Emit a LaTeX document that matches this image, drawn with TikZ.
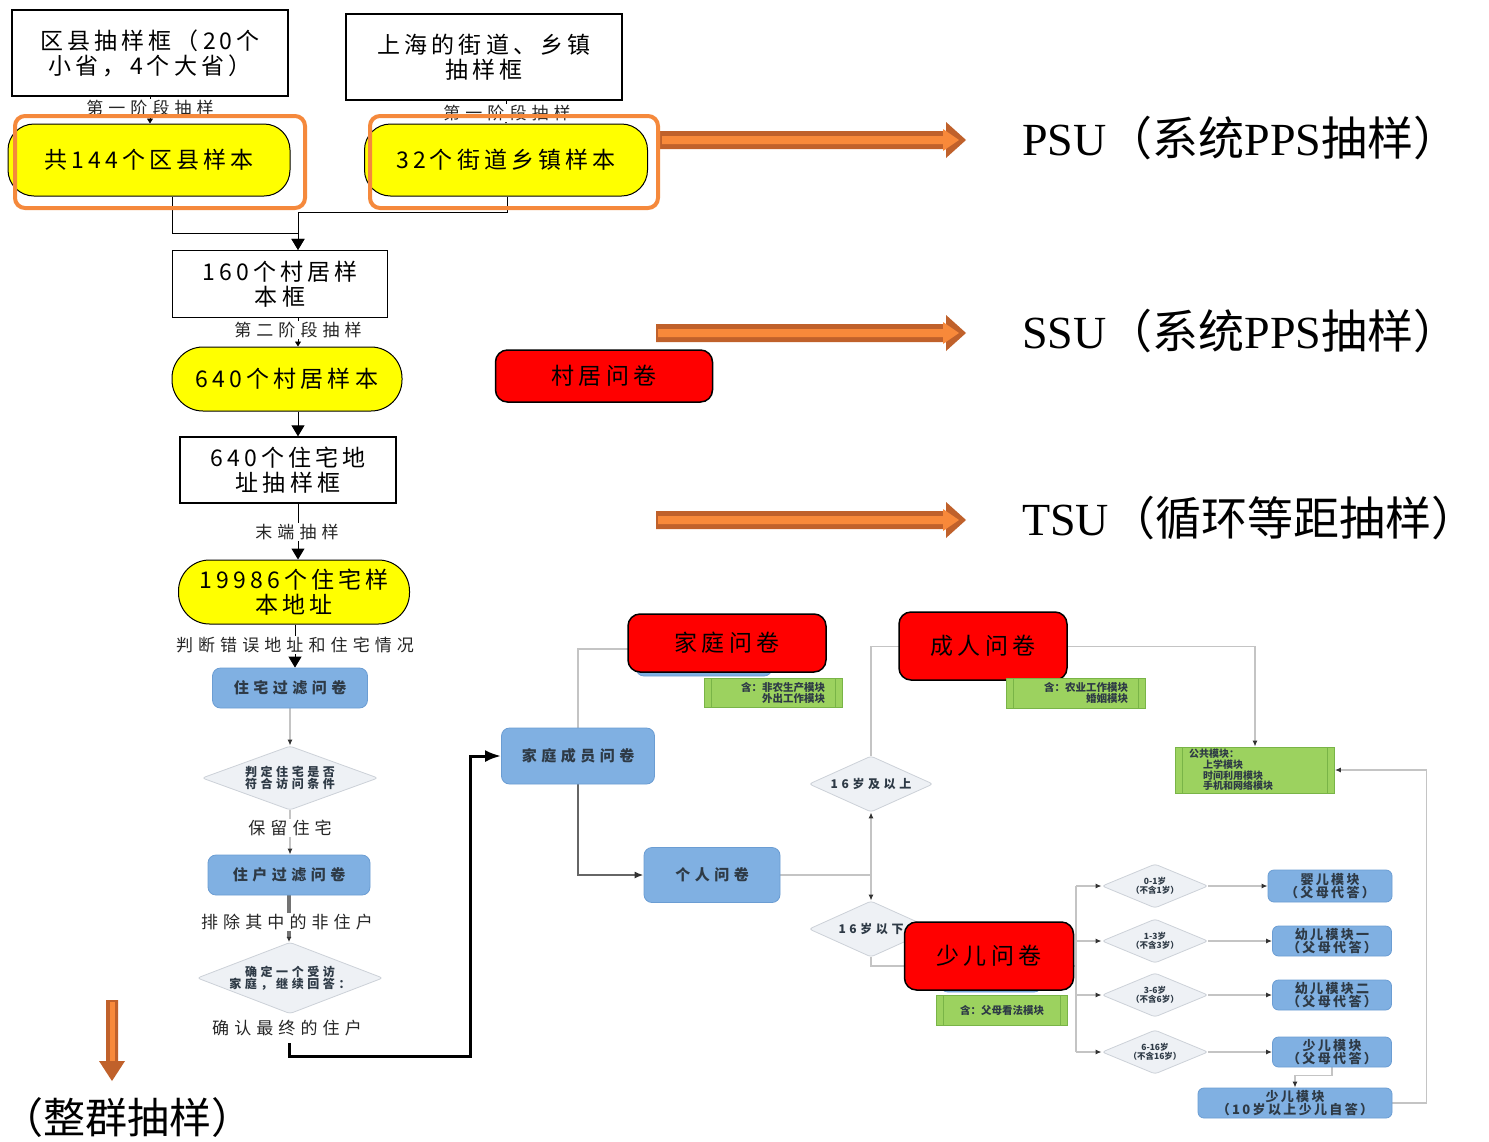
\documentclass[tikz,border=0pt]{standalone}
\usepackage{fontspec}
\setmainfont{Noto Sans CJK SC}
\newfontfamily\cjks{Noto Sans CJK SC}[LetterSpace=18]
\newfontfamily\cjkl{Noto Sans CJK SC}[LetterSpace=30]
\newfontfamily\ser{Liberation Serif}
\usetikzlibrary{shapes.geometric,arrows.meta}
\pgfdeclarelayer{background}
\pgfsetlayers{background,main}
\definecolor{yel}{HTML}{FFFF00}
\definecolor{ofr}{HTML}{F5893C}
\definecolor{adark}{HTML}{C0612B}
\definecolor{alight}{HTML}{F8893A}
\definecolor{redf}{HTML}{FF0000}
\definecolor{bluef}{HTML}{80B0E2}
\definecolor{blued}{HTML}{6B9DD3}
\definecolor{diaf}{HTML}{EEF1F5}
\definecolor{diad}{HTML}{CCD1D8}
\definecolor{grf}{HTML}{9CD25F}
\definecolor{grd}{HTML}{79B447}
\definecolor{lgray}{HTML}{C4C4C4}
\definecolor{btext}{HTML}{2E3A46}
\newcommand\OrArrowH[3]{%
  \fill[adark] (#1,#3-9) -- (#2-20,#3-9) -- (#2-20,#3-18) -- (#2,#3) -- (#2-20,#3+18) -- (#2-20,#3+9) -- (#1,#3+9) -- cycle;
  \fill[alight] (#1+2,#3-4) -- (#2-23,#3-4) -- (#2-23,#3-11) -- (#2-7,#3) -- (#2-23,#3+11) -- (#2-23,#3+4) -- (#1+2,#3+4) -- cycle;}
\newcommand\OrArrowV[3]{%
  \fill[adark] (#1-6,#2) -- (#1+6,#2) -- (#1+6,#3-20) -- (#1+13,#3-20) -- (#1,#3) -- (#1-13,#3-20) -- (#1-6,#3-20) -- cycle;
  \fill[alight] (#1-2.5,#2+2) rectangle (#1+2.5,#3-20);}
\tikzset{
 wbox/.style={draw=black, line width=1.3pt, fill=white, align=center, inner sep=0pt, font=\cjks\fontsize{23}{25}\selectfont},
 ybox/.style={draw=black, line width=1pt, fill=yel, rounded corners=26pt, align=center, inner sep=0pt, font=\cjks\fontsize{23}{25}\selectfont},
 oframe/.style={draw=ofr, line width=4pt, rounded corners=10pt, inner sep=0pt},
 lab/.style={fill=white, inner sep=1pt, font=\cjkl\fontsize{17}{19}\selectfont, text=black!85},
 bbox/.style={draw=blued, line width=0.8pt, fill=bluef, rounded corners=8pt, align=center, inner sep=0pt, text=btext, font=\cjkl\bfseries\fontsize{15}{16}\selectfont},
 sbox/.style={bbox, rounded corners=6pt, font=\cjks\bfseries\fontsize{13}{13}\selectfont},
 dia/.style={diamond, draw=diad, line width=0.8pt, fill=diaf, inner sep=0pt, align=center, text=btext, rounded corners=3pt, font=\cjkl\bfseries\fontsize{12}{12.5}\selectfont},
 qdia/.style={dia, aspect=2.4, minimum width=106, minimum height=44, font=\bfseries\fontsize{8.5}{9.5}\selectfont},
 rbox/.style={draw=black, line width=1.5pt, fill=redf, rounded corners=12pt, inner sep=0pt, font=\cjks\fontsize{23}{25}\selectfont},
 gbox/.style={draw=grd, line width=0.8pt, fill=grf, inner sep=0pt, text=btext, font=\bfseries\fontsize{10.5}{11.5}\selectfont,
   path picture={\draw[grd,line width=0.8pt] ([xshift=7pt]path picture bounding box.north west) -- ([xshift=7pt]path picture bounding box.south west)
     ([xshift=-7pt]path picture bounding box.north east) -- ([xshift=-7pt]path picture bounding box.south east);}},
 big/.style={font=\fontsize{46}{48}\selectfont, inner sep=0pt},
 conn/.style={draw=black, line width=1pt, -{Triangle[length=11pt,width=13pt]}},
 connS/.style={draw=black, line width=0.8pt, -{Triangle[length=5pt,width=6pt]}},
 gconn/.style={draw=lgray, line width=1.5pt},
 garr/.style={gconn, -{Latex[length=6pt,width=5pt,color=black!80]}},
 darr/.style={draw=black!60, line width=2.5pt, -{Latex[length=9pt,width=7pt,color=black!80]}},
 karr/.style={draw=black!55, line width=3.5pt, -{Latex[length=5pt,width=5pt,color=black!80]}}
}
\begin{document}
\begin{tikzpicture}[x=1pt,y=-1pt]
\useasboundingbox (0,0) rectangle (1489,1141);
\begin{pgfonlayer}{background}
\fill[white] (0,0) rectangle (1489,1141);
\end{pgfonlayer}

% orange arrows and big labels
\OrArrowH{660}{966}{140}
\OrArrowH{656}{966}{333}
\OrArrowH{656}{966}{520}
\OrArrowV{112}{1000}{1081}
\node[big, anchor=west] (psu) at (1022,138) {{\ser PSU}（系统{\ser PPS}抽样）};
\node[big, anchor=west] (ssu) at (1022,331) {{\ser SSU}（系统{\ser PPS}抽样）};
\node[big, anchor=west] (tsu) at (1022,518) {{\ser TSU}（循环等距抽样）};
\node[anchor=west, inner sep=0pt, font=\fontsize{42}{44}\selectfont] (zq) at (1,1118) {（整群抽样）};

% left column
\node[wbox, minimum width=276, minimum height=86] (A) at (150,53) {区县抽样框（20个\\小省，4个大省）};
\node[wbox, minimum width=276, minimum height=86] (B) at (484,57) {上海的街道、乡镇\\抽样框};
\node[lab] (l1) at (150,108) {第一阶段抽样};
\node[lab] (l2) at (507,113) {第一阶段抽样};
\node[ybox, minimum width=282, minimum height=72] (C) at (149,160) {共144个区县样本};
\node[ybox, minimum width=283, minimum height=72] (D) at (506,160) {32个街道乡镇样本};
\node[oframe, minimum width=290, minimum height=92] (Cf) at (160,162) {};
\node[oframe, minimum width=288, minimum height=92] (Df) at (514,162) {};
\node[wbox, minimum width=215, minimum height=67] (E) at (280,284) {160个村居样\\本框};
\node[lab] (l3) at (298,330) {第二阶段抽样};
\node[ybox, rounded corners=31pt, minimum width=230, minimum height=64] (F) at (287,379) {640个村居样本};
\node[wbox, minimum width=216, minimum height=66] (G) at (288,470) {640个住宅地\\址抽样框};
\node[lab] (l4) at (297,532) {末端抽样};
\node[ybox, rounded corners=31pt, minimum width=231, minimum height=64] (H) at (294,592) {19986个住宅样\\本地址};
\node[lab] (l5) at (295,645) {判断错误地址和住宅情况};
\node[bbox, minimum width=155, minimum height=40] (I) at (290,688) {住宅过滤问卷};
\node[dia, aspect=2.75, minimum width=176, minimum height=64] (J) at (290,778) {判定住宅是否\\符合访问条件};
\node[lab] (l6) at (290,828) {保留住宅};
\node[bbox, minimum width=162, minimum height=40] (K) at (289,875) {住户过滤问卷};
\node[lab] (l7) at (287,922) {排除其中的非住户};
\node[dia, aspect=2.6, minimum width=180, minimum height=70] (L) at (290,978) {确定一个受访\\家庭，继续回答：};
\node[lab] (l8) at (287,1028) {确认最终的住户};
\coordinate (lst) at (289,1043);

\node[rbox, minimum width=217, minimum height=52] (VQ) at (604,376) {村居问卷};

% right part
\node[bbox, minimum width=153, minimum height=56] (M) at (578,756) {家庭成员问卷};
\node[bbox, minimum width=136, minimum height=54] (FQb) at (704,649) {};
\node[rbox, minimum width=198, minimum height=58] (FQ) at (727,643) {家庭问卷};
\node[gbox, text width=104, align=right, minimum width=138, minimum height=29] (g1) at (773,693) {含：非农生产模块\\外出工作模块};
\node[bbox, minimum width=136, minimum height=55] (N) at (712,875) {个人问卷};
\node[dia, aspect=2.2, minimum width=124, minimum height=56] (O) at (871,784) {16岁及以上};
\node[dia, aspect=2.2, minimum width=124, minimum height=56] (P) at (871,929) {16岁以下};
\node[rbox, minimum width=168, minimum height=68] (AQ) at (983,646) {成人问卷};
\node[gbox, text width=104, align=right, minimum width=139, minimum height=30] (g2) at (1076,693) {含：农业工作模块\\婚姻模块};
\node[gbox, text width=132, align=left, minimum width=159, minimum height=46, font=\bfseries\fontsize{10}{10.8}\selectfont] (g3) at (1255,770) {公共模块：\\\hspace*{14pt}上学模块\\\hspace*{14pt}时间利用模块\\\hspace*{14pt}手机和网络模块};
\node[bbox, minimum width=102, minimum height=52] (SQb) at (991,966) {};
\node[rbox, minimum width=169, minimum height=68] (SQ) at (989,956) {少儿问卷};
\node[gbox, minimum width=131, minimum height=30] (g4) at (1002,1010) {含：父母看法模块};

\node[qdia] (Q1) at (1155,886) {0-1岁\\（不含1岁）};
\node[qdia] (Q2) at (1155,941) {1-3岁\\（不含3岁）};
\node[qdia] (Q3) at (1155,995) {3-6岁\\（不含6岁）};
\node[qdia] (Q4) at (1155,1052) {6-16岁\\（不含16岁）};
\node[sbox, minimum width=124, minimum height=32] (R1) at (1330,886) {婴儿模块\\（父母代答）};
\node[sbox, minimum width=119, minimum height=30] (R2) at (1332,941) {幼儿模块一\\（父母代答）};
\node[sbox, minimum width=119, minimum height=30] (R3) at (1332,995) {幼儿模块二\\（父母代答）};
\node[sbox, minimum width=119, minimum height=30] (R4) at (1332,1052) {少儿模块\\（父母代答）};
\node[sbox, minimum width=194, minimum height=30] (R5) at (1295,1103) {少儿模块\\（10岁以上少儿自答）};

\coordinate (col) at (298,0);
\coordinate (col2) at (295,0);
\coordinate (eIn) at (E.north -| col);
\coordinate (nj) at (871,875);
\coordinate (bt) at (1076,886);
\coordinate (bb) at (1076,1052);

\begin{pgfonlayer}{background}
\draw[connS] (A.south) -- (A.south |- C.north);
\draw[connS] ([xshift=22pt]B.south) -- ([xshift=22pt]B.south |- D.north);
\draw[conn] ([xshift=23pt]C.south) -- ++(0,37) -| (eIn);
\draw[conn] ([xshift=1pt]D.south) -- ++(0,16) -| (eIn);
\draw[connS] (E.south -| col) -- (F.north -| col);
\draw[conn] (F.south -| col) -- (G.north -| col);
\draw[conn] (G.south -| col) -- (H.north -| col);
\draw[conn] (H.south -| col2) -- (I.north -| col2);
\draw[garr] (I.south) -- (J.north);
\draw[garr] (J.south) -- (J.south |- K.north);
\draw[karr] (K.south) -- (K.south |- L.north);
\draw[black, line width=3pt, -{Latex[length=16pt,width=12pt]}] (lst) -- ++(0,13) -- ++(181,0) |- (M.west);
\draw[gconn] (M.north) |- (FQb.west);
\draw[darr] (M.south) |- (N.west);
\draw[gconn] (N.east) -- (nj);
\draw[garr] (nj) -- (O.south);
\draw[garr] (nj) -- (P.north);
\draw[garr] (O.north) -- ++(0,-109) -| (g3.north);
\draw[garr] (P.south) |- (SQb.west);
\draw[gconn] (SQb.east) -- (SQb.east -| bt);
\draw[gconn] (bt) -- (bb);
\foreach \i in {1,...,4} {
  \draw[garr] (Q\i.west -| bt) -- (Q\i.west);
  \draw[garr] (Q\i.east) -- (R\i.west);
}
\draw[garr] (R4.south) -- ++(0,8) -| (R5.north);
\draw[garr] (R5.east) -- ++(34,0) |- (g3.east);
\end{pgfonlayer}
\end{tikzpicture}
\end{document}
